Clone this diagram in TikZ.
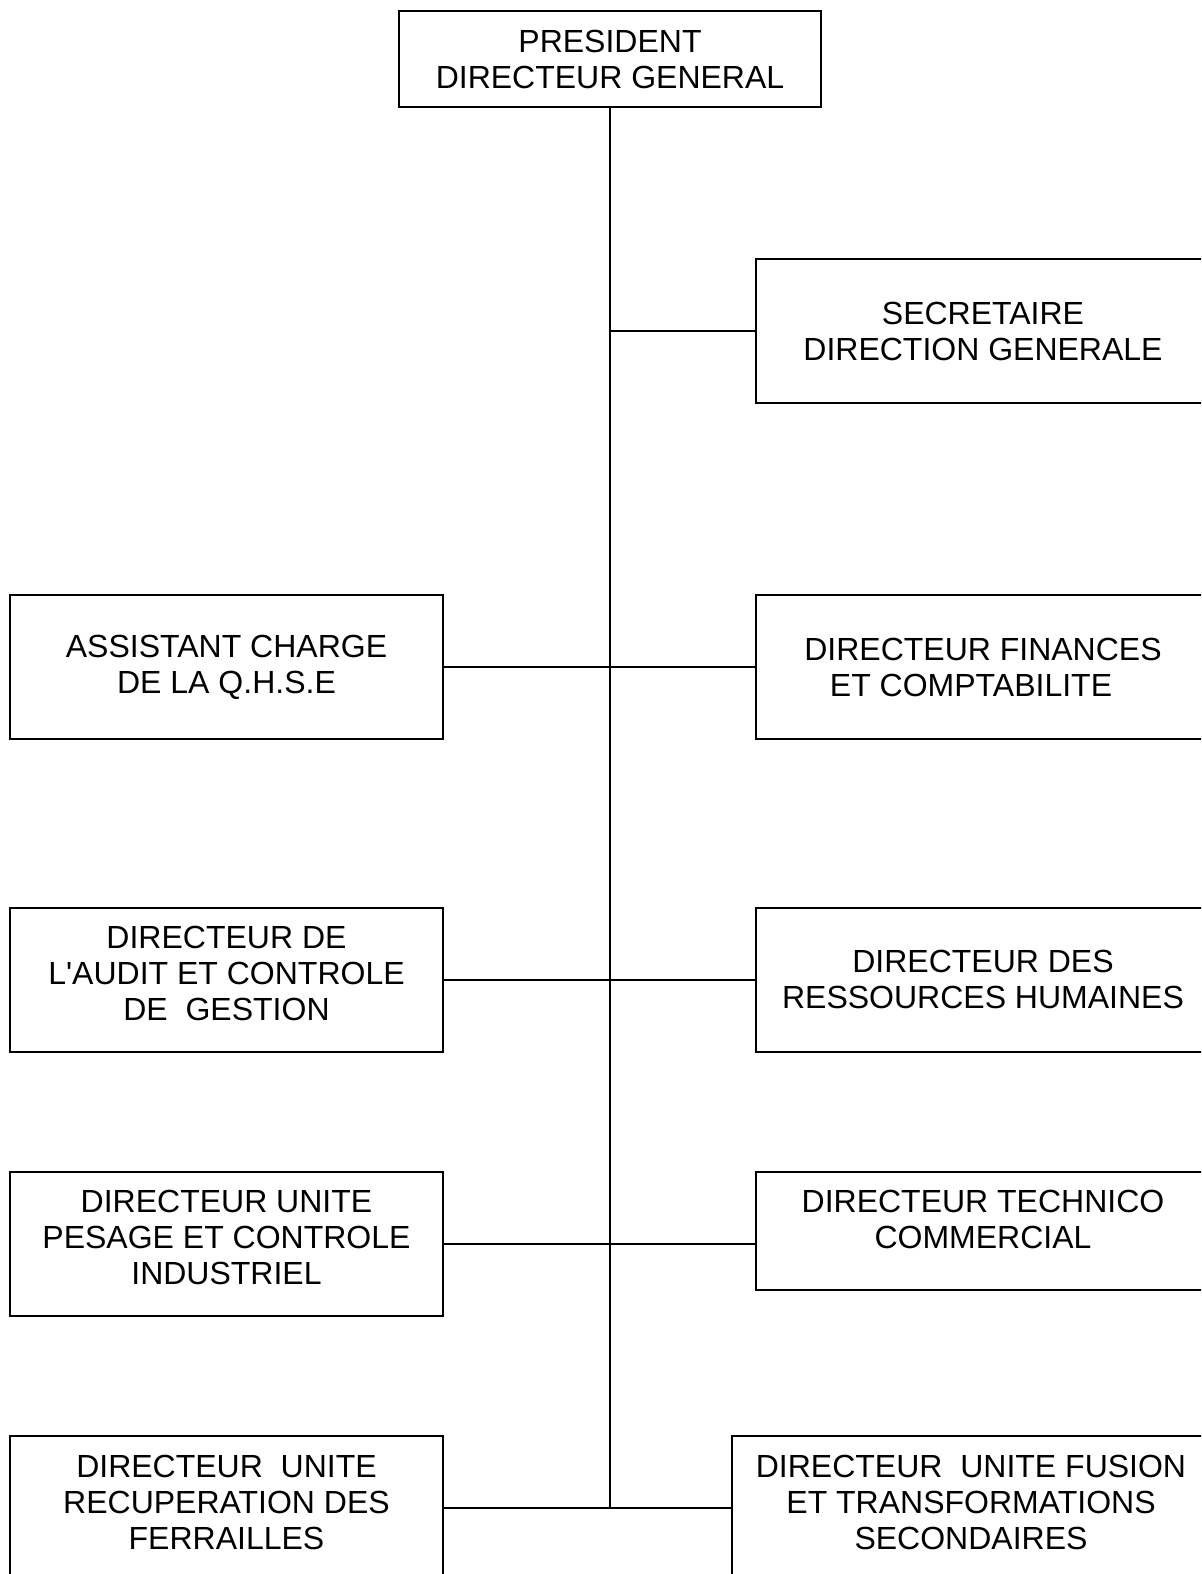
\documentclass[tikz,border=0pt]{standalone}
\usepackage{fontspec}
\setmainfont{Liberation Sans}

\begin{document}
\begin{tikzpicture}[x=0.5pt, y=-0.5pt,
  box/.style={draw, line width=1pt, align=center, inner sep=0pt,
    font=\fontsize{16}{18}\selectfont},
  unit/.style={box, minimum width=216.5pt, minimum height=72pt},
  rightunit/.style={box, anchor=west, minimum width=227pt, minimum height=72pt},
  link/.style={line width=1pt}]
% Page frame (boxes on the right and at the bottom run off the page)
\useasboundingbox (0,0) rectangle (1201,1574);
\clip (0,0) rectangle (1201,1574);

% Head of the chart
\node[box, minimum width=211pt, minimum height=48pt] (pdg) at (610,59)
  {PRESIDENT\\DIRECTEUR GENERAL};

% Right column
\node[rightunit] (sec) at (755,331) {SECRETAIRE\\DIRECTION GENERALE};
\node[rightunit] (fin) at (755,667)
  {DIRECTEUR FINANCES\\ET COMPTABILITE\hspace*{12pt}};
\node[rightunit] (rh) at (755,979.5) {DIRECTEUR DES\\RESSOURCES HUMAINES};
\node[rightunit, minimum height=59pt] (tech) at (755,1231)
  {DIRECTEUR TECHNICO\\COMMERCIAL\\[-6pt]};
\node[box, anchor=west, minimum width=239pt, minimum height=72pt] (fusion) at (731,1508)
  {DIRECTEUR\ \ UNITE FUSION\\ET TRANSFORMATIONS\\SECONDAIRES\\[-12pt]};

% Left column
\node[unit] (qhse) at (226.5,667) {ASSISTANT CHARGE\\DE LA Q.H.S.E};
\node[unit] (audit) at (226.5,979.5)
  {DIRECTEUR DE\\L\textquotesingle AUDIT ET CONTROLE\\DE\ \ GESTION\\[-12pt]};
\node[unit] (pesage) at (226.5,1243.5)
  {DIRECTEUR UNITE\\PESAGE ET CONTROLE\\INDUSTRIEL\\[-12pt]};
\node[unit] (ferr) at (226.5,1508)
  {DIRECTEUR\ \ UNITE\\RECUPERATION DES\\FERRAILLES\\[-12pt]};

% Trunk
\draw[link] (pdg.south) -- (pdg.south |- ferr.east);

% Branches
\draw[link] (pdg.south |- sec.west) -- (sec.west);
\draw[link] (qhse.east) -- (fin.west);
\draw[link] (audit.east) -- (rh.west);
\draw[link] (pesage.east) -- (pesage.east -| tech.west);
\draw[link] (ferr.east) -- (ferr.east -| fusion.west);

\end{tikzpicture}
\end{document}
